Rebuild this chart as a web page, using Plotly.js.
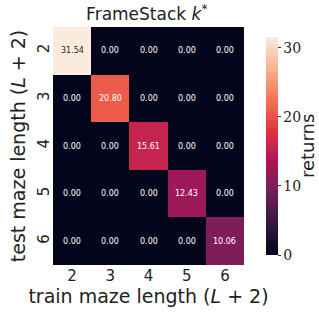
<!DOCTYPE html>
<html><head><meta charset="utf-8">
<script src="https://cdn.plot.ly/plotly-3.0.1.min.js"></script>
<style>body{margin:0;padding:0;background:#fff}#c{width:319px;height:318px}</style>
</head><body><div id="c"></div>
<script>
const trainLengths = ['2','3','4','5','6'];
const testLengths = ['2','3','4','5','6'];
const returns = [
  [31.54, 0.00, 0.00, 0.00, 0.00],
  [0.00, 20.80, 0.00, 0.00, 0.00],
  [0.00, 0.00, 15.61, 0.00, 0.00],
  [0.00, 0.00, 0.00, 12.43, 0.00],
  [0.00, 0.00, 0.00, 0.00, 10.06]
];
const rocket = [
  [0, '#03051a'], [0.143, '#35193e'], [0.286, '#701f57'], [0.429, '#ad1759'],
  [0.571, '#e13342'], [0.714, '#f37651'], [0.857, '#f6b48f'], [1, '#faebdd']
];
const annotations = [];
returns.forEach((row, i) => row.forEach((v, j) => {
  annotations.push({x: j, y: i, xref: 'x', yref: 'y',
    text: v.toFixed(2), showarrow: false,
    font: {family: 'DejaVu Sans, sans-serif', size: 8, color: v > 25 ? '#262626' : '#ffffff'}});
}));
annotations.push({x: 1.33, y: 0.5, xref: 'paper', yref: 'paper', xanchor: 'center', yanchor: 'middle',
  text: 'returns', textangle: -90, showarrow: false,
  font: {family: 'DejaVu Sans, sans-serif', size: 18, color: '#222'}});
const data = [{
  type: 'heatmap', x: trainLengths, y: testLengths, z: returns,
  colorscale: rocket, zmin: 0, zmax: Math.max(...returns.flat()),
  hoverinfo: 'skip',
  colorbar: {
    x: 1.063, xanchor: 'left', y: 0.5, yanchor: 'middle', len: 1, lenmode: 'fraction',
    thickness: 12, outlinewidth: 0, ticks: 'outside', ticklen: 3, tickwidth: 1,
    tickcolor: '#333', tickvals: [0, 10, 20, 30],
    tickfont: {family: 'DejaVu Serif, serif', size: 14, color: '#222'}
  }
}];
const layout = {
  width: 319, height: 318,
  margin: {l: 53, r: 75, t: 27, b: 53, autoexpand: false},
  paper_bgcolor: '#fff', plot_bgcolor: '#fff',
  title: {text: 'FrameStack <i>k</i><sup>*</sup>', x: 0.46, xanchor: 'center', y: 0.955, yanchor: 'middle',
    font: {family: 'DejaVu Sans, sans-serif', size: 17, color: '#222'}},
  xaxis: {type: 'category', range: [-0.5, 4.5], showgrid: false, zeroline: false, ticks: '',
    automargin: false,
    tickfont: {family: 'DejaVu Sans, sans-serif', size: 15, color: '#222'},
    title: {text: 'train maze length (<i>L</i> + 2)', standoff: 4,
      font: {family: 'DejaVu Sans, sans-serif', size: 19, color: '#222'}}},
  yaxis: {type: 'category', range: [4.5, -0.5], showgrid: false, zeroline: false, ticks: '',
    automargin: false, tickangle: -90,
    tickfont: {family: 'DejaVu Sans, sans-serif', size: 15, color: '#222'},
    title: {text: 'test maze length (<i>L</i> + 2)', standoff: 4,
      font: {family: 'DejaVu Sans, sans-serif', size: 19, color: '#222'}}},
  annotations: annotations
};
Plotly.newPlot('c', data, layout, {displayModeBar: false, staticPlot: true});
</script></body></html>
